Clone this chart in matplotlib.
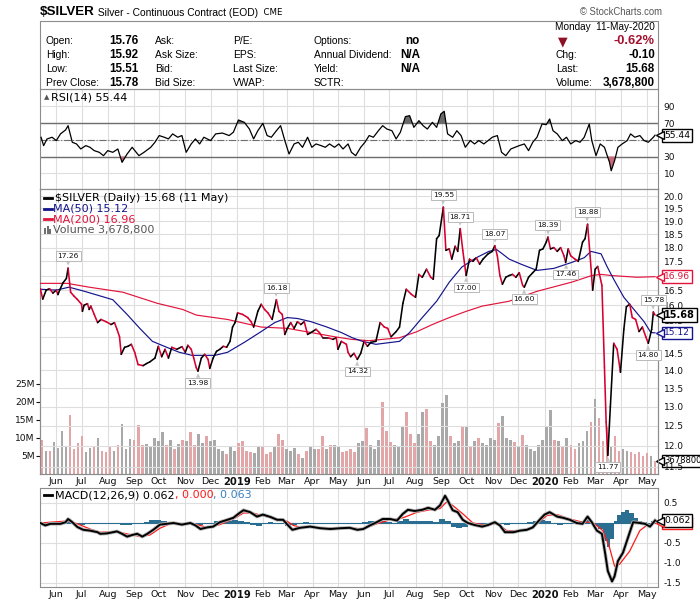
import numpy as np
import pandas as pd
import matplotlib
matplotlib.use("Agg")
import matplotlib.pyplot as plt
import matplotlib.dates as mdates
import matplotlib.patheffects as pe
import matplotlib.transforms as mtrans
from matplotlib.collections import LineCollection
from matplotlib.patches import Rectangle
from matplotlib import font_manager

# ---------------------------------------------------------------- data
symbol = "$SILVER"
title_text = "Silver - Continuous Contract (EOD)"
exchange = "CME"
as_of = "Monday  11-May-2020"

col1_labels = ["Open:", "High:", "Low:", "Prev Close:"]
col1_values = ["15.76", "15.92", "15.51", "15.78"]
col2_labels = ["Ask:", "Ask Size:", "Bid:", "Bid Size:"]
col3_labels = ["P/E:", "EPS:", "Last Size:", "VWAP:"]
col4_labels = ["Options:", "Annual Dividend:", "Yield:", "SCTR:"]
col4_values = ["no", "N/A", "N/A", ""]
col5_labels = ["", "Chg:", "Last:", "Volume:"]
col5_values = ["-0.62%", "-0.10", "15.68", "3,678,800"]

price_dates = [
    "2018-05-13", "2018-05-16", "2018-05-20", "2018-05-24", "2018-05-28", "2018-06-01", "2018-06-03",
    "2018-06-05", "2018-06-09", "2018-06-13", "2018-06-15", "2018-06-18", "2018-06-22", "2018-06-26",
    "2018-07-01", "2018-07-02", "2018-07-04", "2018-07-08", "2018-07-10", "2018-07-12", "2018-07-16",
    "2018-07-20", "2018-07-24", "2018-07-30", "2018-08-05", "2018-08-09", "2018-08-12", "2018-08-15",
    "2018-08-17", "2018-08-21", "2018-08-25", "2018-08-29", "2018-09-02", "2018-09-06", "2018-09-12",
    "2018-09-16", "2018-09-20", "2018-09-26", "2018-09-30", "2018-10-04", "2018-10-08", "2018-10-12",
    "2018-10-16", "2018-10-22", "2018-10-28", "2018-11-01", "2018-11-04", "2018-11-08", "2018-11-11",
    "2018-11-14", "2018-11-16", "2018-11-20", "2018-11-24", "2018-11-28", "2018-11-30", "2018-12-04",
    "2018-12-08", "2018-12-12", "2018-12-16", "2018-12-20", "2018-12-24", "2018-12-27", "2018-12-30",
    "2019-01-02", "2019-01-08", "2019-01-14", "2019-01-18", "2019-01-21", "2019-01-26", "2019-01-30",
    "2019-02-03", "2019-02-07", "2019-02-12", "2019-02-14", "2019-02-17", "2019-02-20", "2019-02-24",
    "2019-02-27", "2019-03-02", "2019-03-06", "2019-03-10", "2019-03-14", "2019-03-18", "2019-03-22",
    "2019-03-26", "2019-03-30", "2019-04-05", "2019-04-09", "2019-04-13", "2019-04-19", "2019-04-25",
    "2019-04-29", "2019-05-01", "2019-05-05", "2019-05-11", "2019-05-13", "2019-05-16", "2019-05-20",
    "2019-05-24", "2019-05-28", "2019-06-01", "2019-06-05", "2019-06-09", "2019-06-15", "2019-06-20",
    "2019-06-25", "2019-06-29", "2019-07-03", "2019-07-09", "2019-07-13", "2019-07-17", "2019-07-21",
    "2019-07-27", "2019-08-01", "2019-08-05", "2019-08-09", "2019-08-14", "2019-08-19", "2019-08-22",
    "2019-08-26", "2019-08-29", "2019-09-03", "2019-09-06", "2019-09-10", "2019-09-13", "2019-09-17",
    "2019-09-20", "2019-09-23", "2019-09-26", "2019-09-30", "2019-10-04", "2019-10-08", "2019-10-12",
    "2019-10-16", "2019-10-20", "2019-10-26", "2019-10-31", "2019-11-03", "2019-11-06", "2019-11-09",
    "2019-11-12", "2019-11-16", "2019-11-20", "2019-11-24", "2019-11-28", "2019-12-02", "2019-12-06",
    "2019-12-08", "2019-12-13", "2019-12-18", "2019-12-22", "2019-12-26", "2019-12-30", "2020-01-03",
    "2020-01-05", "2020-01-08", "2020-01-12", "2020-01-16", "2020-01-20", "2020-01-24", "2020-01-26",
    "2020-01-29", "2020-02-01", "2020-02-06", "2020-02-10", "2020-02-15", "2020-02-18", "2020-02-21",
    "2020-02-24", "2020-02-27", "2020-03-01", "2020-03-04", "2020-03-09", "2020-03-12", "2020-03-14",
    "2020-03-16", "2020-03-19", "2020-03-23", "2020-03-27", "2020-03-31", "2020-04-04", "2020-04-07",
    "2020-04-11", "2020-04-14", "2020-04-18", "2020-04-22", "2020-04-26", "2020-04-30", "2020-05-03",
    "2020-05-07", "2020-05-09", "2020-05-11"]
price_values = [
    16.55, 16.20, 16.50, 16.55, 16.40, 16.50, 16.35,
    16.50, 16.75, 16.90, 17.26, 16.43, 16.30, 16.19,
    16.03, 15.80, 16.00, 16.05, 15.86, 15.97, 15.70,
    15.44, 15.54, 15.47, 15.38, 15.44, 15.23, 15.00,
    14.47, 14.68, 14.71, 14.77, 14.53, 14.17, 14.14,
    14.20, 14.25, 14.36, 14.71, 14.40, 14.62, 14.36,
    14.68, 14.62, 14.70, 14.53, 14.74, 14.62, 14.36,
    14.08, 13.98, 14.36, 14.47, 14.32, 14.06, 14.36,
    14.56, 14.62, 14.71, 14.68, 14.86, 15.30, 15.44,
    15.75, 15.70, 15.60, 15.47, 15.30, 15.80, 16.03,
    15.86, 15.75, 15.54, 15.80, 16.18, 15.80, 15.70,
    15.07, 15.26, 15.44, 15.26, 15.47, 15.38, 15.47,
    15.07, 15.13, 15.23, 15.13, 14.97, 14.97, 14.92,
    14.97, 14.62, 14.86, 14.77, 14.53, 14.40, 14.50,
    14.32, 14.50, 14.86, 14.71, 14.83, 14.86, 15.44,
    15.30, 15.26, 15.00, 15.16, 15.30, 16.06, 16.53,
    16.36, 16.26, 17.04, 16.94, 17.22, 16.94, 16.87,
    18.33, 18.45, 19.55, 17.90, 17.95, 17.58, 18.05,
    17.86, 18.71, 17.90, 17.00, 17.58, 17.50, 17.63,
    17.40, 17.58, 17.77, 17.86, 18.07, 17.70, 17.00,
    16.70, 16.94, 17.00, 17.04, 16.94, 17.10, 16.66,
    16.60, 16.94, 17.10, 17.22, 17.90, 17.95, 18.20,
    18.39, 17.95, 18.00, 17.86, 18.00, 17.70, 17.46,
    17.95, 17.70, 17.58, 17.50, 18.20, 18.33, 18.88,
    17.70, 16.50, 17.22, 17.32, 16.66, 14.10, 12.60,
    11.77, 13.00, 14.80, 14.62, 13.95, 15.23, 15.95,
    16.03, 15.60, 15.54, 15.16, 15.30, 15.00, 14.80,
    15.23, 15.78, 15.68]

peak_dates = ["2018-06-15", "2018-11-16", "2019-02-17", "2019-05-24", "2019-09-03", "2019-09-23",
              "2019-09-30", "2019-11-03", "2019-12-08", "2020-01-05", "2020-01-26", "2020-02-21",
              "2020-03-16", "2020-05-09", "2020-05-03"]
peak_values = [17.26, 13.98, 16.18, 14.32, 19.55, 18.71, 17.00, 18.07, 16.60, 18.39, 17.46, 18.88,
               11.77, 15.78, 14.80]
peak_is_high = [True, False, True, False, True, True, False, True, False, True, False, True,
                False, True, False]

ma50_dates = ["2018-05-13", "2018-06-01", "2018-06-16", "2018-07-02", "2018-07-20", "2018-08-07",
              "2018-08-24", "2018-09-08", "2018-09-23", "2018-10-10", "2018-10-25", "2018-11-09",
              "2018-12-06", "2018-12-21", "2019-01-10", "2019-01-30", "2019-02-15", "2019-03-02",
              "2019-03-14", "2019-03-30", "2019-04-18", "2019-05-05", "2019-05-18", "2019-05-30",
              "2019-06-15", "2019-07-13", "2019-07-25", "2019-08-09", "2019-08-26", "2019-09-10",
              "2019-09-25", "2019-10-12", "2019-10-27", "2019-11-05", "2019-11-12", "2019-11-20",
              "2019-12-04", "2019-12-23", "2020-01-12", "2020-02-02", "2020-02-17", "2020-02-25",
              "2020-03-08", "2020-03-15", "2020-03-23", "2020-04-04", "2020-04-16", "2020-04-28",
              "2020-05-06", "2020-05-11"]
ma50_values = [16.53, 16.50, 16.60, 16.48, 16.33, 16.18, 15.70, 15.26, 14.86, 14.68, 14.53, 14.44,
               14.44, 14.53, 14.83, 15.16, 15.44, 15.60, 15.57, 15.47, 15.30, 15.13, 14.97, 14.86,
               14.77, 14.86, 15.13, 15.60, 16.13, 16.77, 17.30, 17.63, 17.86, 17.93, 17.77, 17.58,
               17.40, 17.18, 17.25, 17.46, 17.63, 17.86, 17.77, 17.32, 16.87, 16.26, 15.86, 15.47,
               15.13, 15.12]

ma200_dates = ["2018-05-13", "2018-06-14", "2018-07-10", "2018-08-19", "2018-09-29", "2018-10-29",
               "2018-11-14", "2018-12-21", "2019-01-30", "2019-03-02", "2019-03-30", "2019-04-27",
               "2019-05-17", "2019-06-07", "2019-07-13", "2019-08-02", "2019-08-21", "2019-09-10",
               "2019-09-30", "2019-10-19", "2019-11-20", "2019-12-23", "2020-02-02", "2020-02-26",
               "2020-03-08", "2020-03-20", "2020-04-20", "2020-05-11"]
ma200_values = [16.73, 16.73, 16.60, 16.43, 16.06, 15.86, 15.68, 15.54, 15.30, 15.26, 15.13, 15.00,
                14.92, 14.88, 14.97, 15.15, 15.38, 15.60, 15.80, 15.97, 16.13, 16.46, 16.77, 17.00,
                17.04, 17.00, 16.94, 16.96]

# volume in millions, evenly spaced sampling of the daily bars
volume_m = [
    9.3, 6.4, 6.5, 8.8, 7.3, 12.0, 7.5, 16.4, 7.0, 8.5, 10.4, 6.0, 7.2, 7.5, 9.9, 6.5, 6.0, 7.5, 6.5, 8.0,
    13.9, 7.0, 9.6, 9.4, 13.6, 8.0, 8.2, 7.6, 10.0, 9.0, 11.5, 8.0, 9.4, 6.8, 8.2, 9.4, 9.0, 11.5, 8.0, 11.0,
    8.5, 10.4, 9.0, 9.3, 7.0, 6.5, 5.5, 7.5, 6.5, 8.7, 9.0, 6.5, 6.2, 5.8, 7.8, 7.8, 5.6, 6.0, 7.5, 11.1,
    9.5, 7.0, 6.5, 7.2, 5.5, 4.5, 6.5, 7.5, 6.8, 7.0, 10.6, 7.0, 8.0, 8.0, 7.5, 6.0, 6.5, 7.0, 6.0, 8.5,
    9.0, 12.7, 8.0, 7.0, 9.4, 19.9, 12.0, 8.8, 8.0, 7.5, 13.0, 17.3, 11.0, 8.5, 11.0, 17.3, 18.0, 9.0, 8.0, 10.5,
    19.6, 21.9, 10.5, 8.5, 9.0, 13.1, 13.3, 7.5, 9.0, 10.0, 8.5, 8.0, 10.0, 9.5, 14.1, 16.1, 10.0, 9.5, 8.8, 7.5,
    10.8, 8.0, 7.0, 6.5, 8.0, 9.5, 13.1, 17.8, 9.5, 9.0, 7.5, 10.0, 8.0, 6.8, 8.5, 9.0, 12.0, 14.5, 20.7, 15.5,
    9.0, 13.0, 7.5, 10.6, 6.5, 6.8, 6.5, 6.0, 5.5, 6.2, 5.0, 5.8, 5.0, 3.6788]
volume_first, volume_last = "2018-05-15", "2020-05-11"

indicator_start = "2018-05-13"   # day 0 for the indicator series below
rsi_day = [1, 4, 8, 14, 19, 24, 30, 33, 38, 43, 48, 54, 59, 64, 70, 75, 80, 86, 92, 97, 103, 109, 117,
           123, 131, 136, 141, 147, 152, 157, 163, 168, 173, 179, 184, 189, 194, 202, 208, 216, 224,
           229, 235, 242, 248, 253, 258, 264, 269, 274, 280, 285, 290, 295, 301, 306, 311, 317, 322,
           327, 333, 338, 343, 349, 354, 359, 365, 369, 374, 380, 385, 390, 395, 401, 406, 411, 417,
           422, 427, 433, 438, 443, 449, 454, 459, 465, 470, 475, 479, 483, 489, 494, 499, 504, 510,
           515, 520, 526, 531, 536, 542, 547, 552, 558, 563, 568, 574, 579, 584, 589, 595, 600, 604,
           608, 613, 619, 624, 629, 635, 640, 645, 651, 654, 659, 664, 669, 675, 677, 681, 685, 690,
           696, 700, 705, 711, 716, 721, 727, 729]
rsi_values = [52.9, 43, 50.9, 53, 49, 57, 61.7, 66.8, 47, 45, 39, 43, 41, 37, 35, 31, 37, 35, 39, 23,
              33, 41, 31, 35, 41, 47, 55, 53, 51, 57, 53, 55, 35, 45, 51, 45, 53, 49, 57, 58,
              55, 59, 73.6, 70.8, 62.8, 51, 60.8, 69.6, 55, 53, 60.8, 66.8, 49, 33, 45, 47, 41, 53, 41, 45,
              43, 41, 45, 41, 45, 39, 45, 35, 31, 41, 47, 55, 53, 60.8, 66.8, 62.8, 60.8, 51, 59, 77.6,
              78.8, 64.8, 72.8, 66.8, 62.8, 70.8, 64.8, 80.8, 84, 57, 53, 60.8, 55, 41, 49, 45, 49, 45, 49, 53,
              55, 35, 31, 39, 41, 43, 45, 37, 47, 53, 68.8, 68, 74.8, 60.8, 57, 49, 53, 45, 49, 47,
              53, 68.8, 49, 31, 45, 41, 23, 13, 25, 41, 45, 49, 57, 53, 55, 49, 47, 53, 55.44]

macd_day = [0, 6, 12, 24, 30, 33, 38, 44, 51, 59, 68, 71, 79, 91, 97, 103, 109, 115, 121, 127, 134, 142,
            150, 158, 168, 178, 184, 190, 198, 205, 213, 222, 229, 235, 241, 249, 257, 264, 273, 281,
            288, 293, 299, 308, 320, 332, 344, 356, 367, 376, 383, 391, 399, 406, 415, 423, 430, 436,
            444, 453, 460, 468, 474, 480, 483, 489, 495, 501, 507, 515, 524, 531, 539, 545, 551, 561,
            569, 577, 584, 593, 598, 604, 613, 620, 628, 636, 643, 649, 654, 660, 666, 670, 673, 678,
            681, 685, 691, 697, 703, 711, 717, 723, 729]
macd_values = [0, -0.06, -0.02, -0.02, 0.02, 0.1, 0.02, -0.1, -0.17, -0.19, -0.23, -0.27, -0.26, -0.21,
               -0.27, -0.34, -0.3, -0.27, -0.34, -0.27, -0.17, -0.04, -0.02, 0, -0.04, 0, -0.06, -0.15,
               -0.11, -0.09, 0.02, 0.08, 0.13, 0.23, 0.32, 0.27, 0.16, 0.21, 0.15, 0.08, 0.08, -0.04,
               -0.17, -0.12, -0.09, -0.13, -0.15, -0.13, -0.12, -0.17, -0.15, -0.06, 0.02, 0.1, 0.1,
               0.06, 0.23, 0.33, 0.3, 0.33, 0.38, 0.33, 0.44, 0.68, 0.57, 0.32, 0.27, 0.08, 0, -0.05,
               -0.09, -0.05, 0.02, -0.06, -0.23, -0.23, -0.19, -0.17, -0.11, 0.1, 0.21, 0.27, 0.16,
               0.13, 0.08, 0, -0.02, 0.16, 0.02, -0.19, -0.27, -0.78, -1.2, -1.46, -1.33, -0.95, -0.74,
               -0.36, 0.02, 0, -0.02, -0.09, 0.062]
signal_day = [0, 32, 44, 59, 71, 91, 107, 119, 130, 142, 154, 169, 186, 198, 213, 229, 241, 252, 264,
              281, 293, 300, 310, 320, 344, 367, 383, 399, 415, 430, 447, 462, 474, 482, 489, 501, 513,
              530, 542, 553, 569, 584, 601, 613, 628, 643, 655, 667, 675, 681, 687, 699, 711, 719, 729]
signal_values = [0, 0.05, -0.02, -0.15, -0.23, -0.22, -0.29, -0.34, -0.3, -0.13, -0.02, -0.02, -0.04,
                 -0.11, -0.04, 0.1, 0.25, 0.25, 0.18, 0.1, 0.04, -0.06, -0.11, -0.11, -0.12, -0.12,
                 -0.15, -0.02, 0.08, 0.13, 0.27, 0.33, 0.36, 0.53, 0.44, 0.23, 0, -0.06, 0, -0.19, -0.19,
                 -0.11, 0.19, 0.21, 0.1, 0.02, 0.02, -0.19, -0.61, -1.08, -1.03, -0.7, -0.19, -0.06, 0.0]
hist_day = list(range(0, 666, 7)) + [670, 674, 678, 682, 686, 691, 696, 701, 706, 711, 716, 722, 726, 729]
hist_values = [0.0, -0.03, 0.0, 0.01, 0.03, 0.05, -0.03, -0.05, -0.03, -0.02, -0.03, 0.0, 0.01, -0.03,
               -0.05, -0.04, 0.01, -0.02, 0.02, 0.07, 0.08, 0.05, 0.02, 0.01, -0.01, 0.02, -0.02, -0.05,
               -0.02, 0.0, 0.04, 0.06, 0.05, 0.08, 0.06, 0.03, -0.05, -0.08, -0.02, 0.02, -0.02, 0.01,
               -0.07, -0.05, 0.0, 0.02, 0.01, -0.02, -0.02, -0.01, 0.01, 0.0, 0.0, -0.03, 0.01, 0.02,
               0.05, 0.06, 0.05, 0.03, -0.01, 0.04, 0.1, 0.04, 0.05, 0.04, 0.05, 0.02, 0.1, 0.06, -0.1,
               -0.12, -0.1, -0.06, -0.04, -0.03, 0.0, 0.03, -0.02, -0.06, -0.03, -0.01, 0.01, 0.03, 0.06,
               0.08, 0.06, -0.03, -0.04, -0.03, -0.02, -0.01, 0.04, 0.08, -0.08, -0.15,
               -0.45, -0.6, -0.4, 0.05, 0.2, 0.28, 0.32, 0.25, 0.12, 0.06, 0.03, 0.0, 0.04, 0.06]

rsi_ticks = [10, 30, 50, 70, 90]
price_ticks = [11.5, 12.0, 12.5, 13.0, 13.5, 14.0, 14.5, 15.0, 15.5, 16.0, 16.5, 17.0, 17.5, 18.0,
               18.5, 19.0, 19.5, 20.0]
volume_ticks_m = [5, 10, 15, 20, 25]
macd_ticks = [0.5, 0.0, -0.5, -1.0, -1.5]

# ---------------------------------------------------------------- fonts / colours
plt.rcParams['font.family'] = ['DejaVu Sans']
names = {f.name for f in font_manager.fontManager.ttflist}
NARROW_OK = 'Liberation Sans Narrow' in names
HF = ['Liberation Sans Narrow', 'DejaVu Sans'] if NARROW_OK else ['Liberation Sans', 'DejaVu Sans']
HS = 1.0 if NARROW_OK else 0.84

C_UP, C_DN = '#000000', '#d6002f'
C_MA50, C_MA200 = '#14148c', '#e2143c'
C_VUP, C_VDN = '#a9a9a9', '#e2a5a8'
C_GRID, C_SPINE = '#dedede', '#8c8c8c'
C_HIST = '#2a6f92'

# ---------------------------------------------------------------- helpers
def to_num(dates):
    return mdates.date2num(pd.to_datetime(dates))

base = pd.Timestamp(indicator_start)
def days_to_num(days):
    return mdates.date2num(base + pd.to_timedelta(np.asarray(days), unit='D'))

px_x = to_num(price_dates)
px_y = np.array(price_values)

W, H = 700, 603
L, R = 40, 658
def rect(x0, y0, x1, y1):
    return [x0 / W, 1 - y1 / H, (x1 - x0) / W, (y1 - y0) / H]

fig = plt.figure(figsize=(W / 100, H / 100), dpi=100)
fig.patch.set_facecolor('white')

ax_rsi = fig.add_axes(rect(L, 89, R, 189))
ax_vol = fig.add_axes(rect(L, 189, R, 474))
ax_px = ax_vol.twinx()
ax_macd = fig.add_axes(rect(L, 488, R, 587))

xlo = mdates.date2num(base) - 0.3
xhi = mdates.date2num(base) + 732.5
month_starts = pd.date_range("2018-06-01", "2020-05-01", freq='MS')
month_num = mdates.date2num(month_starts)
month_lab = [str(d.year) if d.month == 1 else d.strftime('%b') for d in month_starts]

for ax in (ax_rsi, ax_vol, ax_macd):
    ax.set_xlim(xlo, xhi)
    ax.set_xticks(month_num)
    ax.grid(axis='x', color=C_GRID, lw=0.8)
    ax.set_axisbelow(True)
    for s in ax.spines.values():
        s.set_color(C_SPINE)
        s.set_linewidth(0.8)
for s in ax_px.spines.values():
    s.set_color(C_SPINE)
    s.set_linewidth(0.8)

def month_labels(ax):
    ax.set_xticklabels(month_lab)
    ax.tick_params(axis='x', length=0, pad=2.5, labelsize=6.8, colors='#111111')
    for t, d in zip(ax.get_xticklabels(), month_starts):
        if d.month == 1:
            t.set_fontweight('bold')
            t.set_fontsize(7.2)

def right_axis(ax, ticks, labels):
    ax.yaxis.tick_right()
    ax.set_yticks(ticks)
    ax.set_yticklabels(labels)
    ax.tick_params(axis='y', length=0, pad=4, labelsize=6.5, colors='#111111')
    ax.yaxis.set_minor_locator(matplotlib.ticker.NullLocator())

def callout(ax, yval, text, ec, tc, bold=False, size=6.6):
    tr = ax.get_yaxis_transform()
    ax.annotate(text, xy=(1.0, yval), xycoords=tr, xytext=(6, 0), textcoords='offset pixels',
                ha='left', va='center', fontsize=size if not bold else 7.0, color=tc,
                fontweight='bold' if bold else 'normal', annotation_clip=False, zorder=30,
                bbox=dict(boxstyle='square,pad=0.2', fc='white', ec=ec, lw=1.0))
    tri = mtrans.offset_copy(tr, fig=fig, x=2.2, y=0, units='dots')
    ax.plot([1.0], [yval], transform=tri, marker='<', ms=5.2, mfc='white', mec=ec, mew=1.0,
            clip_on=False, zorder=31)

# ---------------------------------------------------------------- RSI panel
rsi_x = days_to_num(rsi_day)
rsi_y = np.array(rsi_values)
ax_rsi.set_ylim(-8.8, 110.6)
right_axis(ax_rsi, rsi_ticks, [str(t) for t in rsi_ticks])
ax_rsi.grid(axis='y', color=C_GRID, lw=0.8)
ax_rsi.tick_params(axis='x', labelbottom=False, length=0)
ax_rsi.axhline(70, color='#6e6e6e', lw=1.0, zorder=2)
ax_rsi.axhline(30, color='#6e6e6e', lw=1.0, zorder=2)
ax_rsi.axhline(50, color='#6e6e6e', lw=0.8, ls='-.', zorder=2)
ax_rsi.fill_between(rsi_x, rsi_y, 70, where=rsi_y >= 70, interpolate=True, color='#6a6a6a', lw=0, zorder=3)
ax_rsi.fill_between(rsi_x, rsi_y, 30, where=rsi_y <= 30, interpolate=True, color='#c66a78', lw=0, zorder=3)
ax_rsi.plot(rsi_x, rsi_y, color='black', lw=0.9, zorder=4)
callout(ax_rsi, rsi_values[-1], f"{rsi_values[-1]:.2f}", 'black', 'black')

# ---------------------------------------------------------------- volume + price panel
vol_x = mdates.date2num(pd.date_range(volume_first, volume_last, periods=len(volume_m)))
seg = np.clip(np.searchsorted(px_x, vol_x, side='right') - 1, 0, len(px_x) - 2)
vol_down = px_y[seg + 1] < px_y[seg]
ax_vol.bar(vol_x, np.array(volume_m) * 1e6, width=3.3, color=np.where(vol_down, C_VDN, C_VUP),
           lw=0, zorder=2)
ax_vol.set_ylim(0, 78.9e6)
ax_vol.set_yticks([v * 1e6 for v in volume_ticks_m])
ax_vol.set_yticklabels([f"{v}M" for v in volume_ticks_m])
ax_vol.tick_params(axis='y', length=3, width=0.8, pad=1, labelsize=6.6, colors='#111111')
month_labels(ax_vol)
callout(ax_vol, volume_m[-1] * 1e6, f"{int(round(volume_m[-1] * 1e6)):d}", 'black', 'black', size=6.0)

# price tick labels that sit fully under a right-hand callout are left blank
covered = {17.0}
ax_px.set_yscale('log')
ax_px.set_ylim(11.33, 20.29)
ax_px.set_xlim(xlo, xhi)
right_axis(ax_px, price_ticks, ["" if t in covered else f"{t:.1f}" for t in price_ticks])
ax_px.grid(axis='y', color=C_GRID, lw=0.8, zorder=0)
ax_px.patch.set_visible(False)

pts = np.column_stack([px_x, px_y])
segs = np.stack([pts[:-1], pts[1:]], axis=1)
seg_cols = [C_DN if b < a else C_UP for a, b in zip(px_y[:-1], px_y[1:])]
ax_px.add_collection(LineCollection(segs, colors=seg_cols, linewidths=1.15, zorder=5,
                                    capstyle='round', joinstyle='round'))
ax_px.plot(to_num(ma200_dates), ma200_values, color=C_MA200, lw=0.85, zorder=4)
ax_px.plot(to_num(ma50_dates), ma50_values, color=C_MA50, lw=0.85, zorder=4)

for d, v, hi in zip(peak_dates, peak_values, peak_is_high):
    xd = to_num([d])[0]
    off = 12 if hi else -12
    ax_px.annotate(f"{v:.2f}", xy=(xd, v), xytext=(0, off), textcoords='offset pixels',
                   ha='center', va='center', fontsize=5.4, color='#111111', zorder=8,
                   bbox=dict(boxstyle='square,pad=0.25', fc='white', ec='#b9b9b9', lw=0.7))
    ax_px.annotate('\u25BC' if hi else '\u25B2', xy=(xd, v), xytext=(0, 4.5 if hi else -4.5),
                   textcoords='offset pixels', ha='center', va='center', fontsize=4,
                   color='#c4c4c4', zorder=7)

callout(ax_px, ma200_values[-1], f"{ma200_values[-1]:.2f}", C_MA200, C_MA200)
callout(ax_px, price_values[-1], f"{price_values[-1]:.2f}", 'black', 'black', bold=True)
callout(ax_px, ma50_values[-1], f"{ma50_values[-1]:.2f}", C_MA50, C_MA50)

# ---------------------------------------------------------------- MACD panel
ax_macd.set_ylim(-1.6, 0.875)
right_axis(ax_macd, macd_ticks, ["" if t == 0.0 else f"{t:.1f}" for t in macd_ticks])
ax_macd.grid(axis='y', color=C_GRID, lw=0.8)
hx = days_to_num(hist_day)
ax_macd.fill_between(hx, hist_values, 0, step='mid', color=C_HIST, lw=0, zorder=2)
ax_macd.plot(hx, np.zeros(len(hx)), color=C_HIST, lw=0.8, zorder=2)
ax_macd.plot(days_to_num(signal_day), signal_values, color='#ff1a1a', lw=0.9, zorder=3)
ax_macd.plot(days_to_num(macd_day), macd_values, color='black', lw=1.4, zorder=4,
             path_effects=[pe.Stroke(linewidth=2.6, foreground='#b5b5b5'), pe.Normal()])
month_labels(ax_macd)
callout(ax_macd, signal_values[-1], "0.000", '#ff1a1a', '#ff1a1a')
callout(ax_macd, macd_values[-1], f"{macd_values[-1]:.3f}", 'black', 'black')

# ---------------------------------------------------------------- overlay texts
ov = fig.add_axes([0, 0, 1, 1])
ov.set_xlim(0, W)
ov.set_ylim(H, 0)
ov.axis('off')
ov.set_zorder(20)

t = ov.text(40, 12, symbol, fontsize=11.5 * HS, fontweight='bold', family=HF, va='center', ha='left')
t = ov.annotate(" " + title_text, xy=(1, 0.45), xycoords=t, va='center', ha='left',
                fontsize=8.8 * HS, family=HF)
ov.annotate("  " + exchange, xy=(1, 0.5), xycoords=t, va='center', ha='left', fontsize=6.2,
            family=['DejaVu Sans'])
ov.text(662, 12, "\u00A9 StockCharts.com", fontsize=8.2 * HS, family=HF, color='#555555',
        ha='right', va='center')

ov.add_patch(Rectangle((L, 21), R - L, 68, fill=False, ec=C_SPINE, lw=0.8))
ov.text(655, 27, as_of, fontsize=8.6 * HS, family=HF, ha='right', va='center')
rows = [41.5, 55.5, 69.5, 83.5]
for i, y in enumerate(rows):
    ov.text(46, y, col1_labels[i], fontsize=8.8 * HS, family=HF, va='center')
    ov.text(138, y, col1_values[i], fontsize=10 * HS, family=HF, fontweight='bold', va='center', ha='right')
    ov.text(155, y, col2_labels[i], fontsize=8.8 * HS, family=HF, va='center')
    ov.text(233, y, col3_labels[i], fontsize=8.8 * HS, family=HF, va='center')
    ov.text(314, y, col4_labels[i], fontsize=8.8 * HS, family=HF, va='center')
    ov.text(420, y, col4_values[i], fontsize=10 * HS, family=HF, fontweight='bold', va='center', ha='right')
    ov.text(556, y, col5_labels[i], fontsize=8.8 * HS, family=HF, va='center')
    ov.text(655, y, col5_values[i], fontsize=(11 if i == 0 else 10) * HS, family=HF, fontweight='bold',
            va='center', ha='right', color='#a3122e' if i == 0 else 'black')
ov.text(563, rows[0], '\u25BC', fontsize=9, color='#8e1024', ha='center', va='center',
        family=['DejaVu Sans'])

# panel legends
LEG = 8
ov.text(47, 97, '\u25B2', fontsize=5, color='#555555', ha='center', va='center')
ov.text(51, 97, f"RSI(14) {rsi_values[-1]:.2f}", fontsize=LEG, va='center', ha='left')

leg_rows = [198, 208.5, 219, 229.5]
ov.plot([44, 52], [leg_rows[0]] * 2, color='black', lw=2)
ov.text(55, leg_rows[0], f"{symbol} (Daily) {price_values[-1]:.2f} (11 May)", fontsize=LEG, va='center')
ov.plot([44, 52], [leg_rows[1]] * 2, color=C_MA50, lw=2)
ov.text(53, leg_rows[1], f"MA(50) {ma50_values[-1]:.2f}", fontsize=LEG, va='center', color=C_MA50)
ov.plot([44, 52], [leg_rows[2]] * 2, color=C_MA200, lw=2)
ov.text(53, leg_rows[2], f"MA(200) {ma200_values[-1]:.2f}", fontsize=LEG, va='center', color=C_MA200)
for bx, bh in zip([44, 46.5, 49], [6, 8, 5]):
    ov.add_patch(Rectangle((bx, leg_rows[3] + 4 - bh), 2, bh, color='#707070', lw=0))
ov.text(53, leg_rows[3], f"Volume {int(round(volume_m[-1] * 1e6)):,}", fontsize=LEG, va='center',
        color='#555555')

ov.plot([44, 52], [495, 495], color='black', lw=2)
t = ov.text(55, 495, f"MACD(12,26,9) {macd_values[-1]:.3f}", fontsize=LEG, va='center')
t = ov.annotate(", 0.000", xy=(1, 0.5), xycoords=t, va='center', ha='left', fontsize=LEG, color='#ff1a1a')
ov.annotate(", 0.063", xy=(1, 0.5), xycoords=t, va='center', ha='left', fontsize=LEG, color='#3a7fc0')

fig.savefig("out.png", dpi=100, facecolor='white')
